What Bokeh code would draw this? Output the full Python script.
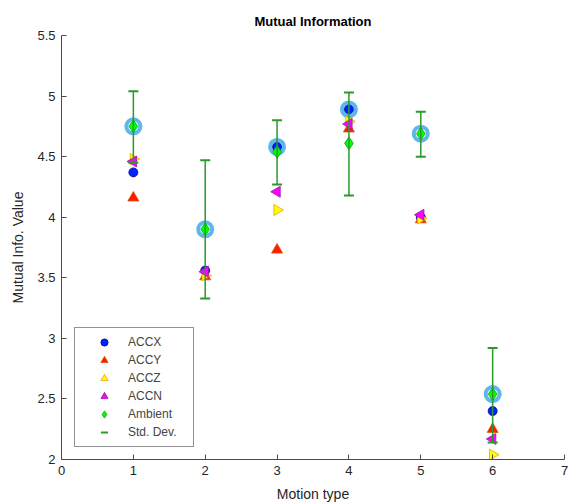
import numpy as np
from bokeh.plotting import figure
from bokeh.models import Range1d, FixedTicker, Legend, LegendItem
from bokeh.embed import file_html
from bokeh.resources import INLINE

motion = [1, 2, 3, 4, 5, 6]
accx = [4.37, 3.56, 4.58, 4.89, 4.00, 2.40]
accy = [4.16, 3.51, 3.73, 4.73, 3.98, 2.25]
accz = [4.48, 3.52, 4.06, 4.79, 3.99, 2.04]
accn = [4.46, 3.55, 4.21, 4.77, 4.02, 2.17]
ambient = [4.75, 3.90, 4.54, 4.61, 4.69, 2.54]
std_upper = [5.04, 4.47, 4.80, 5.03, 4.87, 2.92]
std_lower = [4.45, 3.33, 4.27, 4.18, 4.50, 2.14]
x_ticks = [0, 1, 2, 3, 4, 5, 6, 7]
y_ticks = [2, 2.5, 3, 3.5, 4, 4.5, 5, 5.5]

best = np.max(np.array([accx, accy, accz, accn, ambient]), axis=0)

FONT = "Liberation Sans"
AX = "#4a4a4a"

p = figure(width=572, height=504, output_backend="svg", toolbar_location=None,
           x_range=Range1d(0, 7), y_range=Range1d(2, 5.5),
           min_border_left=61, min_border_right=8, min_border_top=35, min_border_bottom=44)
p.title.text = "Mutual Information"
p.title.align = "center"
p.title.text_font = FONT
p.title.text_font_size = "13px"
p.title.text_font_style = "bold"
p.title.text_color = "black"
p.title.standoff = 14
p.outline_line_color = None
p.xgrid.grid_line_color = None
p.ygrid.grid_line_color = None

p.xaxis.ticker = FixedTicker(ticks=x_ticks)
p.yaxis.ticker = FixedTicker(ticks=y_ticks)
p.xaxis.axis_label = "Motion type"
p.yaxis.axis_label = "Mutual Info. Value"
for ax in (p.xaxis, p.yaxis):
    ax.axis_line_color = AX
    ax.major_tick_line_color = AX
    ax.major_tick_in = 5
    ax.major_tick_out = 0
    ax.minor_tick_line_color = None
    ax.major_label_text_font = FONT
    ax.major_label_text_font_size = "13px"
    ax.major_label_text_color = "#262626"
    ax.axis_label_text_font = FONT
    ax.axis_label_text_font_size = "14px"
    ax.axis_label_text_font_style = "normal"
    ax.axis_label_text_color = "#262626"
p.xaxis.major_label_standoff = 6
p.yaxis.major_label_standoff = 6
p.xaxis.axis_label_standoff = 8
p.yaxis.axis_label_standoff = 8

# highlight ring on best value
p.scatter(motion, best, marker="circle", size=14, fill_color=None,
          line_color="#5bb8e8", line_width=4)

r_x = p.scatter(motion, accx, marker="circle", size=9, fill_color="#0022ff", line_color="#0000aa", line_width=0.8)
r_y = p.scatter(motion, accy, marker="triangle", size=11, fill_color="#ff1a00", line_color="#e05000", line_width=0.8)
r_z = p.scatter(motion, accz, marker="triangle", angle=-np.pi / 2, size=11, fill_color="#ffff00", line_color="#f0a000", line_width=0.8)
r_n = p.scatter(motion, accn, marker="triangle", angle=np.pi / 2, size=11, fill_color="#ff00ff", line_color="#9020a0", line_width=0.8)
r_a = p.scatter(motion, ambient, marker="diamond", size=13, fill_color="#00ff00", line_color="#10a010", line_width=0.8)

p.segment(x0=motion, y0=std_lower, x1=motion, y1=std_upper, line_color="#2a9a2a", line_width=1.5)
r_c1 = p.scatter(motion, std_upper, marker="dash", size=10, line_color="#2a9a2a", line_width=2)
p.scatter(motion, std_lower, marker="dash", size=10, line_color="#2a9a2a", line_width=2)

legend = Legend(items=[
    LegendItem(label="ACCX", renderers=[r_x]),
    LegendItem(label="ACCY", renderers=[r_y]),
    LegendItem(label="ACCZ", renderers=[r_z]),
    LegendItem(label="ACCN", renderers=[r_n]),
    LegendItem(label="Ambient", renderers=[r_a]),
    LegendItem(label="Std. Dev.", renderers=[r_c1]),
], location=(13, 12))
legend.padding = 5
legend.margin = 0
legend.spacing = 0
legend.glyph_width = 48
legend.glyph_height = 18
legend.label_height = 18
legend.label_width = 60
legend.label_standoff = 0
legend.label_text_font = FONT
legend.label_text_font_size = "12px"
legend.border_line_color = "#262626"
legend.border_line_width = 1
legend.background_fill_alpha = 1
p.add_layout(legend)

open("out.html", "w").write(file_html(p, INLINE))
